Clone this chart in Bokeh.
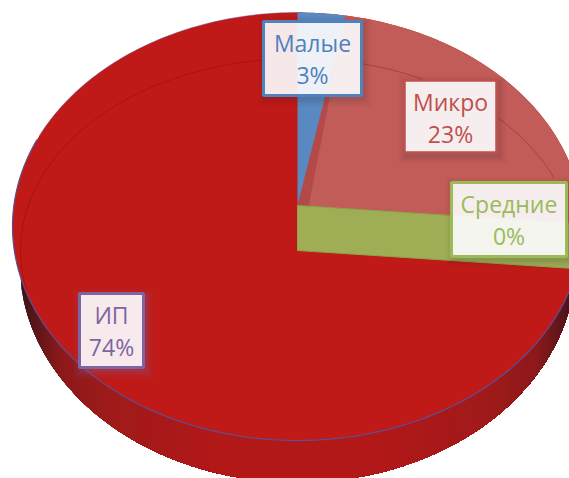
import math
from bokeh.core.properties import value
from bokeh.embed import file_html
from bokeh.models import Range1d
from bokeh.plotting import figure
from bokeh.resources import INLINE

categories = ["Малые", "Микро", "Средние", "ИП"]
shares = [3.0, 23.4, 0.2, 73.5]
share_labels = ["3%", "23%", "0%", "74%"]
colors = ["#4f81bd", "#c0504d", "#9bbb59", "#8064a2"]

# ---- style / layout geometry (reference pixel space) ----
CX, CY, RX, RY = 297.0, 226.0, 285.0, 214.0   # outer ellipse
APEX_TOP = (297.0, 205.0)
APEX_LOW = (297.0, 250.0)
ASPECT = (285.0, 214.0)
BAND = (297.0, 262.0, 278.0, 220.0)
INNER = (297.0, 250.0, 277.0, 192.0)
RED = "#bf1a17"
FILL = {"Малые": "#5a88c0", "Микро": "#c25c58", "Средние": "#9fae55"}
BOXES = {"Малые": (263, 21, 361, 95), "Микро": (404, 80, 496, 152),
         "Средние": (451, 182, 566, 256), "ИП": (79, 293, 143, 367)}
BOX_W = {"Малые": 3, "Микро": 2.5, "Средние": 3, "ИП": 3}
FONT = "Open Sans"
FSIZE = "23px"

p = figure(width=569, height=478, output_backend="svg", toolbar_location=None,
           x_axis_type=None, y_axis_type=None, min_border=0,
           x_range=Range1d(0, 569), y_range=Range1d(478, 0))
p.outline_line_color = None
p.grid.visible = False


def hit(apex, theta):
    """Ray from apex at pie-angle theta (deg, ccw from east) to outer ellipse."""
    t = math.radians(theta)
    dx, dy = math.cos(t) * ASPECT[0], -math.sin(t) * ASPECT[1]
    ax, ay = (apex[0] - CX) / RX, (apex[1] - CY) / RY
    bx, by = dx / RX, dy / RY
    a, b, c = bx * bx + by * by, 2 * (ax * bx + ay * by), ax * ax + ay * ay - 1
    s = (-b + math.sqrt(b * b - 4 * a * c)) / (2 * a)
    return apex[0] + s * dx, apex[1] + s * dy


def arc(p0, p1, n=60):
    a0 = math.atan2((p0[1] - CY) / RY, (p0[0] - CX) / RX)
    a1 = math.atan2((p1[1] - CY) / RY, (p1[0] - CX) / RX)
    out = []
    for i in range(n + 1):
        a = a0 + (a1 - a0) * i / n
        out.append((CX + RX * math.cos(a), CY + RY * math.sin(a)))
    return out


def ramp(x):
    d = min(x - 19, 575 - x)
    stops = [(0, (0x3a, 0x14, 0x18)), (15, (0x5a, 0x16, 0x1a)), (40, (0x8c, 0x19, 0x1b)),
             (90, (0xa0, 0x1a, 0x1a)), (200, (0xb2, 0x18, 0x18)), (300, (0xb2, 0x18, 0x18))]
    for (d0, c0), (d1, c1) in zip(stops, stops[1:]):
        if d <= d1:
            f = max(0, (d - d0) / (d1 - d0))
            return "#%02x%02x%02x" % tuple(round(u + (v - u) * f) for u, v in zip(c0, c1))
    return "#b21818"


# side band: overlapping strips painted from left to right, each runs to the band's right end
bx, by, brx, bry = BAND
outline = [bx - brx + i * 2 for i in range(int(brx) + 1)]
lo = lambda u: by + bry * math.sqrt(max(0, 1 - ((u - bx) / brx) ** 2))
sxs, sys, scs = [], [], []
for x in outline[:-1]:
    xr = [u for u in outline if u >= x]
    sxs.append(xr + [xr[-1], x])
    sys.append([lo(u) for u in xr] + [CY, CY])
    scs.append(ramp(x))
p.patches(sxs, sys, fill_color=scs, line_color=None)

# outer ellipse (ИП top surface)
n = 360
ox = [CX + RX * math.cos(math.radians(a)) for a in range(n + 1)]
oy = [CY + RY * math.sin(math.radians(a)) for a in range(n + 1)]
p.patch(ox, oy, fill_color=RED, line_color=None)

# slice angles follow the values, clockwise from twelve o'clock
total = sum(shares)
th0 = 90.0
th1 = th0 - 360 * shares[0] / total
th2 = th1 - 360 * shares[1] / total

# Микро
a, b = hit(APEX_TOP, th1), hit(APEX_TOP, th2)
pts = [APEX_TOP] + arc(a, b)
p.patch([q[0] for q in pts], [q[1] for q in pts], fill_color=FILL["Микро"], line_color=None)
# inner wall of Микро
w = [APEX_TOP, (APEX_TOP[0] + 11, APEX_TOP[1] + 1), a]
p.patch([q[0] for q in w], [q[1] for q in w], fill_color="#b34a47", line_color=None)

# Малые
a0 = hit(APEX_TOP, th0)
pts = [APEX_TOP] + arc(a0, a)
p.patch([q[0] for q in pts], [q[1] for q in pts], fill_color=FILL["Малые"], line_color=None)

# Средние: cut face between the two apexes
g0, g1 = hit(APEX_TOP, th2), hit(APEX_LOW, th2)
pts = [APEX_TOP] + arc(g0, g1) + [APEX_LOW]
p.patch([q[0] for q in pts], [q[1] for q in pts], fill_color=FILL["Средние"],
        line_color="#86a84a", line_width=1)

# thin inner rim
ix, iy, irx, iry = INNER
ang = [22 + i for i in range(0, 172)]
p.line([ix + irx * math.cos(math.radians(t)) for t in ang],
       [iy - iry * math.sin(math.radians(t)) for t in ang],
       line_color="#7a0c0c", line_alpha=0.35, line_width=1)

# blue-ish rim along the lower edge of the ellipse
ang = list(range(-15, 205))
p.line([CX + RX * math.cos(math.radians(t)) for t in ang],
       [CY + RY * math.sin(math.radians(t)) for t in ang],
       line_color="#5b5095", line_width=1.2)
ang = list(range(205, 272))
p.line([CX + RX * math.cos(math.radians(t)) for t in ang],
       [CY + RY * math.sin(math.radians(t)) for t in ang],
       line_color="#5b5095", line_alpha=0.45, line_width=1)

# data labels
for cat, lab, col in zip(categories, share_labels, colors):
    l, t, r, b_ = BOXES[cat]
    for grow, al in [(8, 0.025), (6, 0.035), (4, 0.05), (2, 0.06)]:
        p.quad(left=[l - grow + 2], right=[r + grow + 2], top=[t - grow + 3], bottom=[b_ + grow + 3],
               fill_color=col if cat == "ИП" else "#20203a", fill_alpha=al * (2 if cat == "ИП" else 1),
               line_color=None)
    p.quad(left=[l], right=[r], top=[t], bottom=[b_], fill_color="white", fill_alpha=0.9,
           line_color=col, line_width=BOX_W[cat])
    xc = (l + r) / 2
    p.text([xc], [t + 21], text=[cat], text_color=col, text_align="center", text_baseline="middle",
           text_font=value(FONT), text_font_size=FSIZE)
    p.text([xc], [t + 53], text=[lab], text_color=col, text_align="center", text_baseline="middle",
           text_font=value(FONT), text_font_size=FSIZE)

open("out.html", "w").write(file_html(p, INLINE))
